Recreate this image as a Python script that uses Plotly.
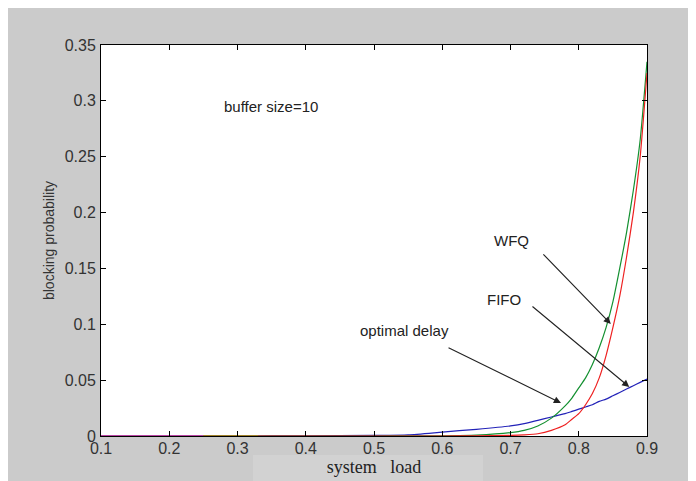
import plotly.graph_objects as go

# ---- data ----
load = [0.1, 0.2, 0.3, 0.4, 0.5, 0.55, 0.6, 0.65, 0.7, 0.72, 0.74, 0.76, 0.78, 0.79,
        0.8, 0.81, 0.82, 0.83, 0.84, 0.85, 0.86, 0.87, 0.88, 0.89, 0.9]
optimal_delay = [0, 0, 0, 0.0001, 0.0005, 0.001, 0.0035, 0.006, 0.009, 0.011, 0.014, 0.017,
                 0.02, 0.022, 0.024, 0.026, 0.028, 0.031, 0.033, 0.036, 0.039, 0.042, 0.045,
                 0.048, 0.051]
wfq = [0, 0, 0, 0, 0, 0.0001, 0.0002, 0.0008, 0.003, 0.005, 0.009, 0.016, 0.027, 0.034,
       0.043, 0.052, 0.064, 0.079, 0.097, 0.12, 0.15, 0.182, 0.22, 0.265, 0.335]
fifo = [0, 0, 0, 0, 0, 0, 0, 0.0001, 0.0005, 0.001, 0.002, 0.005, 0.01, 0.015,
        0.02, 0.028, 0.038, 0.052, 0.072, 0.097, 0.125, 0.16, 0.2, 0.25, 0.325]
# near-zero segments of other curves visible along the axis
seg_a_x = [0.1, 0.25]
seg_a_y = [0, 0]
seg_b_x = [0.25, 0.33]
seg_b_y = [0, 0]

xticks = [0.1, 0.2, 0.3, 0.4, 0.5, 0.6, 0.7, 0.8, 0.9]
xticktext = ["0.1", "0.2", "0.3", "0.4", "0.5", "0.6", "0.7", "0.8", "0.9"]
yticks = [0, 0.05, 0.1, 0.15, 0.2, 0.25, 0.3, 0.35]
yticktext = ["0", "0.05", "0.1", "0.15", "0.2", "0.25", "0.3", "0.35"]

# labels: (text, x, y)
labels = [("buffer size=10", 0.349, 0.2946),
          ("WFQ", 0.701, 0.175),
          ("FIFO", 0.690, 0.122),
          ("optimal delay", 0.545, 0.094)]
# arrows: (tail_x, tail_y, head_x, head_y)
arrows = [(0.746, 0.164, 0.847, 0.1003),
          (0.730, 0.117, 0.874, 0.0439),
          (0.607, 0.0797, 0.774, 0.0295)]

GRAY = "#cbcbcb"
fig = go.Figure()
fig.add_trace(go.Scatter(x=load, y=optimal_delay, mode="lines",
                         line=dict(color="#2222b8", width=1.2, shape="spline", smoothing=0.6)))
fig.add_trace(go.Scatter(x=load, y=wfq, mode="lines",
                         line=dict(color="#139030", width=1.2, shape="spline", smoothing=0.6)))
fig.add_trace(go.Scatter(x=load, y=fifo, mode="lines",
                         line=dict(color="#ee2020", width=1.2, shape="spline", smoothing=0.6)))
fig.add_trace(go.Scatter(x=seg_a_x, y=seg_a_y, mode="lines",
                         line=dict(color="#c040c0", width=1.6)))
fig.add_trace(go.Scatter(x=seg_b_x, y=seg_b_y, mode="lines",
                         line=dict(color="#a09020", width=1.6)))

for t, x, y in labels:
    fig.add_annotation(x=x, y=y, xref="x", yref="y", text=t, showarrow=False,
                       font=dict(family="Liberation Sans, Arial", size=15, color="#222"))
for tx, ty, hx, hy in arrows:
    fig.add_annotation(x=hx, y=hy, ax=tx, ay=ty, xref="x", yref="y", axref="x", ayref="y",
                       text="", showarrow=True, arrowhead=2, arrowsize=1.3, arrowwidth=1.1,
                       arrowcolor="#222", standoff=0, startstandoff=0)

# lighter patch behind x title
fig.add_shape(type="rect", xref="paper", yref="paper", x0=(253 - 101) / 546, x1=(483 - 101) / 546,
              y0=(436 - 490) / 391, y1=(436 - 455) / 391, fillcolor="#d2d2d2", line_width=0,
              layer="below")

axis_common = dict(showgrid=False, zeroline=False, showline=True, linecolor="black",
                   linewidth=1, mirror="ticks", ticks="inside", ticklen=5, tickcolor="black",
                   tickfont=dict(family="Liberation Sans, Arial", size=16, color="#333"))
fig.update_layout(
    width=696, height=481,
    margin=dict(l=93, r=57, t=37, b=53, pad=0),
    paper_bgcolor=GRAY, plot_bgcolor="white",
    showlegend=False,
    xaxis=dict(range=[0.1, 0.9], tickvals=xticks, ticktext=xticktext,
               title=dict(text="system&nbsp;&nbsp;&nbsp;load", standoff=0,
                          font=dict(family="Liberation Serif, Times New Roman", size=18,
                                    color="#222")),
               ticklabelstandoff=-2, **axis_common),
    yaxis=dict(range=[0, 0.35], tickvals=yticks, ticktext=yticktext,
               title=dict(text="blocking probability", standoff=6,
                          font=dict(family="Liberation Sans, Arial", size=14, color="#333")),
               ticklabelstandoff=1, **axis_common),
)
fig.write_html("out.html")
